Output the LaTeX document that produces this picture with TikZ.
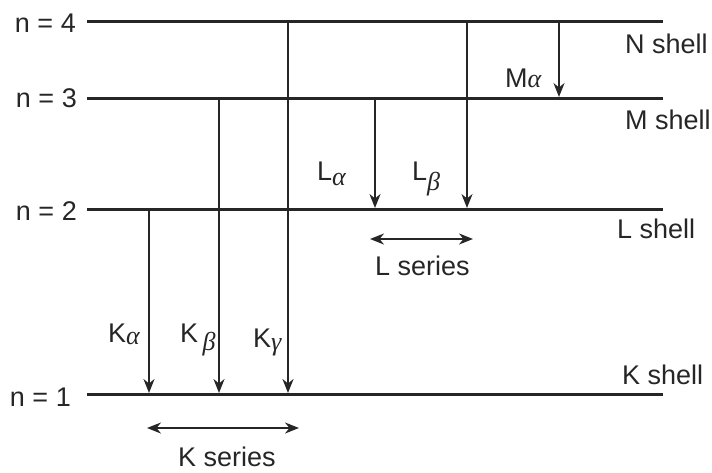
\documentclass[tikz,border=0pt]{standalone}
\usepackage{fontspec}
\setmainfont{Liberation Sans}
\newfontfamily\grkfont{Liberation Serif}
\usetikzlibrary{arrows.meta}
\definecolor{ink}{HTML}{262626}
\newcommand{\grsub}[2]{\raisebox{-#1pt}{\fontsize{26}{26}\selectfont\grkfont\itshape #2}}
\begin{document}
\begin{tikzpicture}[x=1pt,y=-1pt,
  font=\fontsize{27}{30}\selectfont, text=ink,
  level/.style={draw=ink, line width=3pt},
  headtip/.tip={Stealth[length=14pt, width=11pt, inset=4.5pt]},
  trans/.style={draw=ink, line width=2pt, -headtip},
  spanarrow/.style={draw=ink, line width=2pt, headtip-headtip},
  lbl/.style={inner sep=0pt, anchor=base west},
  nlbl/.style={inner sep=0pt, anchor=base east}]
\useasboundingbox (0,0) rectangle (712,472);
% levels
\coordinate (L4s) at (87,21);  \coordinate (L4e) at (663,21);
\coordinate (L3s) at (87,98);  \coordinate (L3e) at (663,98);
\coordinate (L2s) at (87,209); \coordinate (L2e) at (663,209);
\coordinate (L1s) at (87,394); \coordinate (L1e) at (663,394);
\draw[level] (L4s) -- (L4e);
\draw[level] (L3s) -- (L3e);
\draw[level] (L2s) -- (L2e);
\draw[level] (L1s) -- (L1e);
% transitions
\coordinate (ka1) at (149,209); \coordinate (ka2) at (149,393);
\coordinate (kb1) at (219,98);  \coordinate (kb2) at (219,393);
\coordinate (kg1) at (288,21);  \coordinate (kg2) at (288,393);
\coordinate (la1) at (375,98);  \coordinate (la2) at (375,208);
\coordinate (lb1) at (467,21);  \coordinate (lb2) at (467,208);
\coordinate (ma1) at (559,21);  \coordinate (ma2) at (559,97);
\draw[trans] (ka1) -- (ka2);
\draw[trans] (kb1) -- (kb2);
\draw[trans] (kg1) -- (kg2);
\draw[trans] (la1) -- (la2);
\draw[trans] (lb1) -- (lb2);
\draw[trans] (ma1) -- (ma2);
% series ranges
\coordinate (ks1) at (147,428); \coordinate (ks2) at (299,428);
\coordinate (ls1) at (370,239); \coordinate (ls2) at (473,239);
\draw[spanarrow] (ks1) -- (ks2);
\draw[spanarrow] (ls1) -- (ls2);
% level labels
\node[nlbl] (n4) at (76,32)  {n = 4};
\node[nlbl] (n3) at (77,107) {n = 3};
\node[nlbl] (n2) at (77,220) {n = 2};
\node[nlbl] (n1) at (71,406) {n = 1};
\node[lbl] (Nsh) at (625,53)  {N shell};
\node[lbl] (Msh) at (625,129) {M shell};
\node[lbl] (Lsh) at (617,238) {L shell};
\node[lbl] (Ksh) at (622,384) {K shell};
% line labels
\node[lbl] (tka) at (108,342) {K\grsub{2}{α}};
\node[lbl] (tkb) at (180,342) {K\,\grsub{8}{β}};
\node[lbl] (tkg) at (253,347) {K\grsub{3}{γ}};
\node[lbl] (tla) at (317,180) {L\grsub{5}{α}};
\node[lbl] (tlb) at (412,180) {L\grsub{10}{β}};
\node[lbl] (tma) at (505,87)  {M\grsub{0}{α}};
\node[lbl] (kser) at (178,466) {K series};
\node[lbl] (lser) at (375,275) {L series};
\end{tikzpicture}
\end{document}
